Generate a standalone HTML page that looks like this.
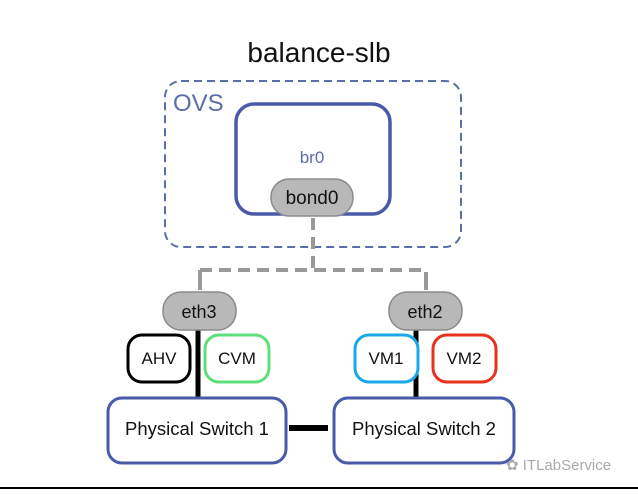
<!DOCTYPE html>
<html><head><style>
body{margin:0;background:#fff;}
svg text{font-family:"Liberation Sans",sans-serif;}
</style></head><body>
<svg width="638" height="490" viewBox="0 0 638 490" xmlns="http://www.w3.org/2000/svg">
<rect width="638" height="490" fill="#fff"/>
<text x="319" y="62" font-size="28" text-anchor="middle" fill="#111">balance-slb</text>
<rect x="165" y="81" width="296" height="166" rx="16" fill="none" stroke="#5b6ea6" stroke-width="2" stroke-dasharray="8,5"/>
<text x="173" y="111" font-size="24" fill="#5b6ea6">OVS</text>
<rect x="236" y="104" width="154" height="110" rx="18" fill="#fff" stroke="#4a5aa8" stroke-width="3.5"/>
<text x="312" y="163" font-size="17" text-anchor="middle" fill="#5b6ea6">br0</text>
<rect x="271" y="179" width="82" height="37" rx="18" fill="#b8b8b8" stroke="#8a8a8a" stroke-width="1.5"/>
<text x="312" y="204" font-size="19" text-anchor="middle" fill="#111">bond0</text>
<g stroke="#999" stroke-width="4" fill="none" stroke-dasharray="12,7">
<line x1="313" y1="218" x2="313" y2="268"/>
<line x1="200" y1="270" x2="427" y2="270"/>
</g>
<g stroke="#999" stroke-width="4">
<line x1="200" y1="270" x2="200" y2="290"/>
<line x1="426" y1="272" x2="426" y2="290"/>
</g>
<line x1="198" y1="330" x2="198" y2="398" stroke="#000" stroke-width="5"/>
<line x1="416" y1="330" x2="416" y2="398" stroke="#000" stroke-width="5"/>
<line x1="289" y1="428" x2="328" y2="428" stroke="#000" stroke-width="6"/>
<rect x="163" y="292" width="73" height="38" rx="18" fill="#b8b8b8" stroke="#8a8a8a" stroke-width="1.5"/>
<text x="199" y="318" font-size="18" text-anchor="middle" fill="#111">eth3</text>
<rect x="389" y="292" width="73" height="38" rx="18" fill="#b8b8b8" stroke="#8a8a8a" stroke-width="1.5"/>
<text x="425" y="318" font-size="18" text-anchor="middle" fill="#111">eth2</text>
<rect x="128" y="335" width="62" height="47" rx="14" fill="#fff" stroke="#000" stroke-width="3"/>
<text x="159" y="364" font-size="17" text-anchor="middle" fill="#111">AHV</text>
<rect x="205" y="335" width="64" height="47" rx="14" fill="#fff" stroke="#5de07a" stroke-width="3"/>
<text x="237" y="364" font-size="17" text-anchor="middle" fill="#111">CVM</text>
<rect x="355" y="335" width="63" height="47" rx="14" fill="#fff" stroke="#1aa8e8" stroke-width="3"/>
<text x="386" y="364" font-size="17" text-anchor="middle" fill="#111">VM1</text>
<rect x="433" y="335" width="63" height="47" rx="14" fill="#fff" stroke="#e8321e" stroke-width="3"/>
<text x="464" y="364" font-size="17" text-anchor="middle" fill="#111">VM2</text>
<rect x="108" y="398" width="178" height="65" rx="14" fill="#fff" stroke="#4a5aa8" stroke-width="3"/>
<text x="197" y="435" font-size="18.5" text-anchor="middle" fill="#111">Physical Switch 1</text>
<rect x="334" y="398" width="180" height="65" rx="14" fill="#fff" stroke="#4a5aa8" stroke-width="3"/>
<text x="424" y="435" font-size="18.5" text-anchor="middle" fill="#111">Physical Switch 2</text>
<text x="506" y="470" font-size="15" fill="#aaa">✿ ITLabService</text>
<line x1="0" y1="488" x2="638" y2="488" stroke="#000" stroke-width="2"/>
</svg>
</body></html>
